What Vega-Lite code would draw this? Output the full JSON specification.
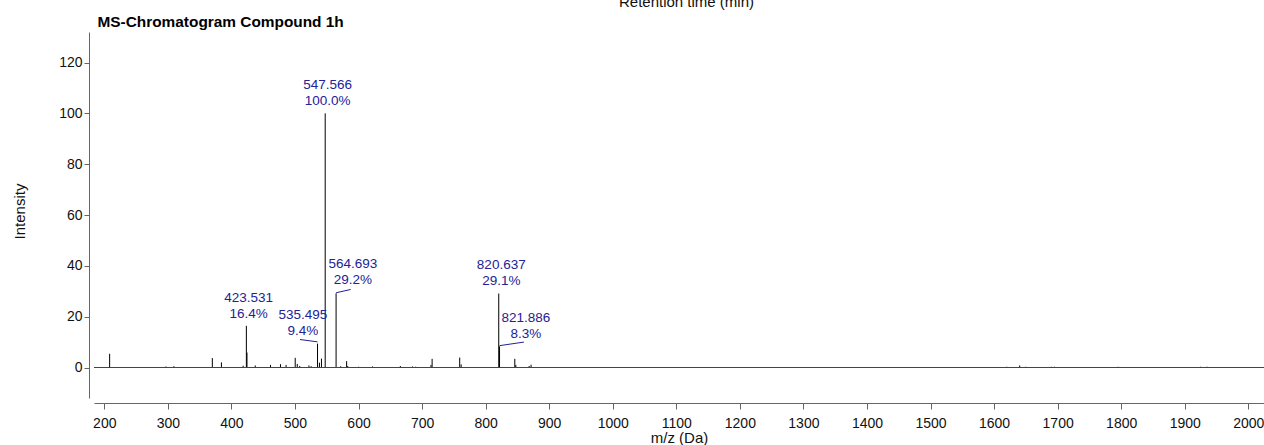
{
  "$schema": "https://vega.github.io/schema/vega-lite/v6.json",
  "width": 1170,
  "height": 366,
  "autosize": {"type": "none"},
  "padding": {"left": 94, "top": 32, "right": 0, "bottom": 47},
  "background": "white",
  "config": {
    "font": "Liberation Sans",
    "view": {"stroke": null},
    "axis": {"domainColor": "#666666", "tickColor": "#666666", "labelColor": "#111111", "titleColor": "#111111", "grid": false}
  },
  "datasets": {
    "peaks": [
      {"mz": 208.4, "intensity": 5.4},
      {"mz": 297.0, "intensity": 0.4},
      {"mz": 309.5, "intensity": 0.5},
      {"mz": 370.0, "intensity": 3.7},
      {"mz": 384.3, "intensity": 2.0},
      {"mz": 418.5, "intensity": 0.7},
      {"mz": 423.531, "intensity": 16.4},
      {"mz": 424.5, "intensity": 5.9},
      {"mz": 437.5, "intensity": 0.8},
      {"mz": 461.5, "intensity": 1.0},
      {"mz": 477.2, "intensity": 1.3},
      {"mz": 486.0, "intensity": 1.0},
      {"mz": 500.4, "intensity": 3.8},
      {"mz": 503.6, "intensity": 1.4},
      {"mz": 507.5, "intensity": 0.6},
      {"mz": 522.0, "intensity": 0.8},
      {"mz": 525.5, "intensity": 0.5},
      {"mz": 535.495, "intensity": 9.4},
      {"mz": 538.5, "intensity": 1.9},
      {"mz": 541.7, "intensity": 3.5},
      {"mz": 547.566, "intensity": 100.0},
      {"mz": 564.693, "intensity": 29.2},
      {"mz": 572.0, "intensity": 0.5},
      {"mz": 581.3, "intensity": 2.5},
      {"mz": 583.0, "intensity": 0.6},
      {"mz": 600.0, "intensity": 0.3},
      {"mz": 622.0, "intensity": 0.4},
      {"mz": 665.8, "intensity": 0.6},
      {"mz": 685.0, "intensity": 0.4},
      {"mz": 690.0, "intensity": 0.3},
      {"mz": 714.0, "intensity": 1.0},
      {"mz": 715.8, "intensity": 3.4},
      {"mz": 759.2, "intensity": 3.9},
      {"mz": 761.5, "intensity": 1.2},
      {"mz": 820.637, "intensity": 29.1},
      {"mz": 821.886, "intensity": 8.3},
      {"mz": 845.9, "intensity": 3.4},
      {"mz": 847.5, "intensity": 1.0},
      {"mz": 868.5, "intensity": 0.6},
      {"mz": 871.5, "intensity": 1.1},
      {"mz": 1620.0, "intensity": 0.3},
      {"mz": 1640.3, "intensity": 0.8},
      {"mz": 1650.0, "intensity": 0.3},
      {"mz": 1660.0, "intensity": 0.2},
      {"mz": 1690.0, "intensity": 0.3},
      {"mz": 1695.0, "intensity": 0.3},
      {"mz": 1730.0, "intensity": 0.2},
      {"mz": 1765.0, "intensity": 0.2},
      {"mz": 1795.0, "intensity": 0.3},
      {"mz": 1830.0, "intensity": 0.2},
      {"mz": 1880.0, "intensity": 0.2},
      {"mz": 1895.0, "intensity": 0.2},
      {"mz": 1925.0, "intensity": 0.3},
      {"mz": 1935.0, "intensity": 0.3},
      {"mz": 1960.0, "intensity": 0.2}
    ],
    "labels": [
      {"lx": 551.5, "ly": 111.3, "t": "547.566\n100.0%"},
      {"lx": 591.0, "ly": 40.6, "t": "564.693\n29.2%"},
      {"lx": 427.2, "ly": 27.5, "t": "423.531\n16.4%"},
      {"lx": 512.6, "ly": 20.5, "t": "535.495\n9.4%"},
      {"lx": 824.6, "ly": 40.3, "t": "820.637\n29.1%"},
      {"lx": 863.5, "ly": 19.4, "t": "821.886\n8.3%"}
    ],
    "leaders": [
      {"x1": 564.693, "y1": 29.4, "x2": 587.7, "y2": 30.7},
      {"x1": 507.9, "y1": 11.0, "x2": 535.5, "y2": 10.1},
      {"x1": 821.9, "y1": 8.6, "x2": 860.3, "y2": 10.0}
    ],
    "base": [{"level": 0}]
  },
  "resolve": {"axis": {"x": "independent"}},
  "layer": [
    {
      "data": {"name": "peaks"},
      "mark": {"type": "rule", "color": "#000000", "strokeWidth": 1},
      "encoding": {
        "x": {
          "field": "mz", "type": "quantitative",
          "scale": {"domain": [183.8, 2024.7], "nice": false, "zero": false},
          "axis": {
            "orient": "bottom", "offset": 5, "values": [200,300,400,500,600,700,800,900,1000,1100,1200,1300,1400,1500,1600,1700,1800,1900,2000],
            "format": "d", "tickSize": 6, "labelFontSize": 14, "labelBaseline": "middle", "labelPadding": 14, "labelFlush": false, "labelOverlap": false,
            "title": "m/z (Da)", "titleFontSize": 15, "titleFontWeight": "normal", "titleY": 34.5, "titleBaseline": "middle"
          }
        },
        "y": {
          "field": "intensity", "type": "quantitative", "title": "Intensity",
          "scale": {"domain": [-12, 132], "nice": false, "zero": false},
          "axis": {
            "orient": "left", "offset": 5, "values": [0,20,40,60,80,100,120], "tickSize": 5, "labelPadding": 2, "labelFontSize": 14,
            "title": "Intensity", "titleFontSize": 15, "titleFontWeight": "normal", "titleX": -70, "titleY": 179, "titleAngle": -90, "titleBaseline": "middle", "titleAlign": "center"
          }
        },
        "y2": {"datum": 0}
      }
    },
    {
      "data": {"name": "base"},
      "mark": {"type": "rule", "color": "#444444", "strokeWidth": 1},
      "encoding": {
        "y": {"field": "level", "type": "quantitative", "title": "Intensity"}
      }
    },
    {
      "data": {"name": "leaders"},
      "mark": {"type": "rule", "color": "#222299", "strokeWidth": 1},
      "encoding": {
        "x": {
          "field": "x1", "type": "quantitative",
          "axis": {"orient": "top", "domain": false, "ticks": false, "labels": false, "title": "MS-Chromatogram Compound 1h", "titleFontSize": 15.4, "titleFontWeight": "bold", "titleX": 3, "titleY": -6, "titleAlign": "left", "titleBaseline": "alphabetic", "titleColor": "#000000"}
        },
        "x2": {"field": "x2"},
        "y": {"field": "y1", "type": "quantitative", "title": "Intensity"},
        "y2": {"field": "y2"}
      }
    },
    {
      "data": {"name": "labels"},
      "mark": {"type": "text", "color": "#222299", "fontSize": 13.5, "align": "center", "baseline": "middle", "lineBreak": "\n", "lineHeight": 16},
      "encoding": {
        "x": {
          "field": "lx", "type": "quantitative",
          "axis": {"orient": "top", "domain": false, "ticks": false, "labels": false, "title": "Retention time (min)", "titleFontSize": 15, "titleFontWeight": "normal", "titleX": 592, "titleY": -25.5, "titleAlign": "center", "titleBaseline": "alphabetic"}
        },
        "y": {"field": "ly", "type": "quantitative", "title": "Intensity"},
        "text": {"field": "t", "type": "nominal"}
      }
    }
  ]
}
